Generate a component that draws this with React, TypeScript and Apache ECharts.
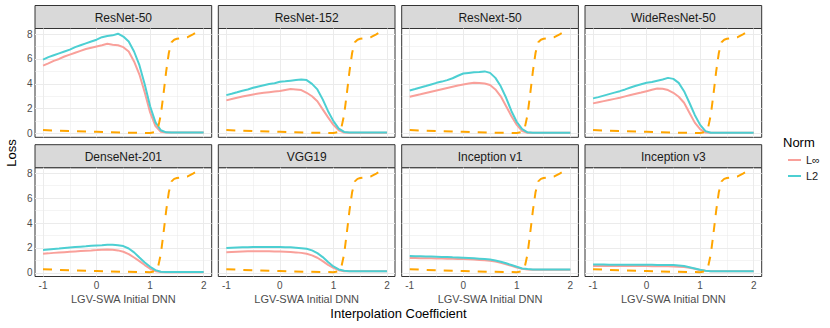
import React, { useEffect, useRef } from "react";
import * as echarts from "echarts";

const FONT = "'Liberation Sans', Arial, Helvetica, sans-serif";

const panelNames = [
  "ResNet-50", "ResNet-152", "ResNext-50", "WideResNet-50",
  "DenseNet-201", "VGG19", "Inception v1", "Inception v3",
];

const xs = [
  -1, -0.9, -0.8, -0.7, -0.6, -0.5, -0.4, -0.3, -0.2, -0.1,
  0, 0.1, 0.2, 0.3, 0.4, 0.5, 0.6, 0.7, 0.8, 0.9,
  1, 1.1, 1.2, 1.3, 1.4, 1.5, 1.6, 1.7, 1.8, 1.9, 2,
];

const resnet50Linf = [5.47, 5.65, 5.85, 6.0, 6.2, 6.35, 6.5, 6.65, 6.8, 6.9, 7.0, 7.1, 7.22, 7.15, 7.1, 6.95, 6.6, 5.8, 4.75, 3.3, 1.7, 0.6, 0.15, 0.08, 0.08, 0.08, 0.08, 0.08, 0.08, 0.08, 0.08];
const resnet50L2 = [5.95, 6.15, 6.3, 6.45, 6.6, 6.75, 6.95, 7.1, 7.25, 7.4, 7.55, 7.75, 7.85, 7.9, 8.03, 7.8, 7.4, 6.6, 5.5, 3.95, 2.2, 0.9, 0.27, 0.1, 0.08, 0.08, 0.08, 0.08, 0.08, 0.08, 0.08];
const resnet152Linf = [2.67, 2.78, 2.88, 2.98, 3.07, 3.15, 3.22, 3.28, 3.33, 3.38, 3.42, 3.5, 3.58, 3.55, 3.5, 3.28, 3.0, 2.6, 1.95, 1.3, 0.7, 0.27, 0.08, 0.07, 0.07, 0.07, 0.07, 0.07, 0.07, 0.07, 0.07];
const resnet152L2 = [3.09, 3.2, 3.32, 3.45, 3.55, 3.68, 3.78, 3.88, 3.98, 4.05, 4.16, 4.2, 4.25, 4.3, 4.35, 4.3, 4.0, 3.55, 2.75, 1.8, 1.0, 0.4, 0.13, 0.08, 0.08, 0.08, 0.08, 0.08, 0.08, 0.08, 0.08];
const resnext50Linf = [2.96, 3.06, 3.16, 3.27, 3.37, 3.47, 3.57, 3.67, 3.77, 3.87, 3.95, 4.02, 4.08, 4.06, 4.03, 3.9, 3.55, 3.0, 2.2, 1.4, 0.7, 0.2, 0.06, 0.06, 0.06, 0.06, 0.06, 0.06, 0.06, 0.06, 0.06];
const resnext50L2 = [3.47, 3.58, 3.7, 3.82, 3.95, 4.08, 4.18, 4.3, 4.45, 4.65, 4.83, 4.88, 4.93, 4.95, 5.0, 4.88, 4.48, 3.8, 2.88, 1.8, 0.93, 0.35, 0.1, 0.07, 0.07, 0.07, 0.07, 0.07, 0.07, 0.07, 0.07];
const wideresnet50Linf = [2.43, 2.52, 2.61, 2.7, 2.79, 2.88, 2.99, 3.1, 3.2, 3.3, 3.41, 3.52, 3.63, 3.6, 3.5, 3.28, 2.96, 2.48, 1.68, 0.88, 0.35, 0.08, 0.06, 0.06, 0.06, 0.06, 0.06, 0.06, 0.06, 0.06, 0.06];
const wideresnet50L2 = [2.83, 2.93, 3.05, 3.17, 3.29, 3.41, 3.55, 3.7, 3.85, 3.97, 4.08, 4.15, 4.25, 4.35, 4.48, 4.4, 4.08, 3.41, 2.48, 1.5, 0.7, 0.2, 0.06, 0.06, 0.06, 0.06, 0.06, 0.06, 0.06, 0.06, 0.06];
const densenet201Linf = [1.53, 1.56, 1.6, 1.63, 1.66, 1.69, 1.72, 1.75, 1.78, 1.8, 1.83, 1.86, 1.88, 1.86, 1.8, 1.69, 1.5, 1.23, 0.94, 0.62, 0.32, 0.13, 0.06, 0.05, 0.05, 0.05, 0.05, 0.05, 0.05, 0.05, 0.05];
const densenet201L2 = [1.83, 1.87, 1.91, 1.95, 2.0, 2.04, 2.07, 2.1, 2.13, 2.17, 2.2, 2.22, 2.25, 2.25, 2.22, 2.15, 1.95, 1.64, 1.23, 0.83, 0.48, 0.21, 0.08, 0.06, 0.06, 0.06, 0.06, 0.06, 0.06, 0.06, 0.06];
const vgg19Linf = [1.66, 1.68, 1.7, 1.72, 1.73, 1.74, 1.74, 1.73, 1.73, 1.72, 1.72, 1.7, 1.67, 1.64, 1.6, 1.53, 1.4, 1.21, 0.94, 0.64, 0.4, 0.21, 0.13, 0.12, 0.12, 0.12, 0.12, 0.12, 0.12, 0.12, 0.12];
const vgg19L2 = [1.99, 2.01, 2.03, 2.05, 2.06, 2.07, 2.07, 2.07, 2.07, 2.07, 2.07, 2.06, 2.05, 2.02, 1.98, 1.93, 1.8, 1.58, 1.26, 0.86, 0.51, 0.27, 0.16, 0.13, 0.13, 0.13, 0.13, 0.13, 0.13, 0.13, 0.13];
const inceptionV1Linf = [1.18, 1.18, 1.17, 1.16, 1.16, 1.15, 1.14, 1.13, 1.12, 1.11, 1.1, 1.08, 1.06, 1.03, 1.0, 0.97, 0.9, 0.8, 0.68, 0.56, 0.43, 0.32, 0.27, 0.24, 0.24, 0.24, 0.24, 0.24, 0.24, 0.24, 0.24];
const inceptionV1L2 = [1.34, 1.33, 1.32, 1.31, 1.3, 1.29, 1.27, 1.26, 1.24, 1.23, 1.21, 1.19, 1.16, 1.13, 1.1, 1.07, 0.99, 0.89, 0.76, 0.62, 0.48, 0.35, 0.3, 0.27, 0.27, 0.27, 0.27, 0.27, 0.27, 0.27, 0.27];
const inceptionV3Linf = [0.54, 0.54, 0.54, 0.54, 0.54, 0.54, 0.54, 0.54, 0.54, 0.54, 0.54, 0.53, 0.53, 0.52, 0.52, 0.51, 0.49, 0.46, 0.4, 0.32, 0.21, 0.16, 0.13, 0.13, 0.13, 0.13, 0.13, 0.13, 0.13, 0.13, 0.13];
const inceptionV3L2 = [0.67, 0.66, 0.66, 0.65, 0.65, 0.64, 0.64, 0.64, 0.64, 0.64, 0.64, 0.64, 0.63, 0.63, 0.62, 0.62, 0.59, 0.54, 0.45, 0.35, 0.24, 0.16, 0.13, 0.13, 0.13, 0.13, 0.13, 0.13, 0.13, 0.13, 0.13];

const linfSeries = [resnet50Linf, resnet152Linf, resnext50Linf, wideresnet50Linf, densenet201Linf, vgg19Linf, inceptionV1Linf, inceptionV3Linf];
const l2Series = [resnet50L2, resnet152L2, resnext50L2, wideresnet50L2, densenet201L2, vgg19L2, inceptionV1L2, inceptionV3L2];

// reference (dashed orange) curve, same in every panel
const refX = [-1, -0.5, 0, 0.5, 1.0, 1.1, 1.15, 1.2, 1.25, 1.3, 1.35, 1.4, 1.45, 1.5, 1.6, 1.7, 1.8, 1.85, 1.9];
const refY = [0.28, 0.2, 0.14, 0.08, 0.05, 0.12, 0.5, 1.5, 3.2, 5.0, 6.5, 7.35, 7.55, 7.62, 7.68, 7.75, 7.98, 8.1, 8.02];

const xLabelTicks = [-1, 0, 1, 2];
const xMinorTicks = [-0.5, 0.5, 1.5];
const yLabelTicks = [0, 2, 4, 6, 8];
const yMinorTicks = [1, 3, 5, 7];

const normNames = ["L∞", "L2"];

const PINK = "#F9A09A";
const TEAL = "#4CCFD2";
const ORANGE = "#FFA500";

export default function App() {
  const ref = useRef<HTMLDivElement>(null);

  useEffect(() => {
    if (!ref.current) return;
    const chart = echarts.init(ref.current, undefined, { renderer: "svg" });

    const colLeft = [35, 218.3, 401.7, 585];
    const panelW = 176.7;
    const rowTop = [28.5, 167.7];
    const panelH = 108.8;
    const stripH = 23;

    const grids: any[] = [];
    const xAxes: any[] = [];
    const yAxes: any[] = [];
    const series: any[] = [];
    const graphics: any[] = [];

    panelNames.forEach((name, i) => {
      const col = i % 4;
      const row = Math.floor(i / 4);
      const bottom = row === 1;
      const left = col === 0;
      grids.push({
        left: colLeft[col], top: rowTop[row], width: panelW, height: panelH,
        show: true, backgroundColor: "#FFFFFF", borderColor: "#333333", borderWidth: 1,
        containLabel: false,
      });
      xAxes.push({
        gridIndex: i, type: "value", min: -1.15, max: 2.15,
        axisLine: { show: false },
        splitLine: { show: false },
        minorSplitLine: { show: false },
        axisTick: { show: bottom, customValues: xLabelTicks, length: 3, lineStyle: { color: "#333333", width: 1 } },
        axisLabel: { show: bottom, customValues: xLabelTicks, fontSize: 10, color: "#4D4D4D", margin: 4, fontFamily: FONT, fontWeight: "normal" },
        name: bottom ? "LGV-SWA Initial DNN" : "",
        nameLocation: "middle",
        nameGap: 17,
        nameTextStyle: { fontSize: 11, color: "#4D4D4D", fontFamily: FONT, fontWeight: "normal" },
      });
      yAxes.push({
        gridIndex: i, type: "value", min: -0.3, max: 8.45,
        axisLine: { show: false },
        splitLine: { show: false },
        axisTick: { show: left, customValues: yLabelTicks, length: 2.5, lineStyle: { color: "#333333", width: 1 } },
        axisLabel: { show: left, customValues: yLabelTicks, fontSize: 10, color: "#4D4D4D", margin: 2.5, fontFamily: FONT, fontWeight: "normal" },
      });

      const gridLines: any[] = [];
      xLabelTicks.forEach((v) => gridLines.push({ xAxis: v, lineStyle: { color: "#EBEBEB", width: 1, type: "solid" } }));
      xMinorTicks.forEach((v) => gridLines.push({ xAxis: v, lineStyle: { color: "#EBEBEB", width: 0.55, type: "solid" } }));
      yLabelTicks.forEach((v) => gridLines.push({ yAxis: v, lineStyle: { color: "#EBEBEB", width: 1, type: "solid" } }));
      yMinorTicks.forEach((v) => gridLines.push({ yAxis: v, lineStyle: { color: "#EBEBEB", width: 0.55, type: "solid" } }));

      series.push({
        name: normNames[0], type: "line", xAxisIndex: i, yAxisIndex: i,
        data: xs.map((x, j) => [x, linfSeries[i][j]]),
        showSymbol: false, symbol: "none", color: PINK,
        lineStyle: { color: PINK, width: 2 }, z: 2,
        markLine: {
          silent: true, symbol: ["none", "none"], z: 1, animation: false,
          label: { show: false }, emphasis: { disabled: true },
          lineStyle: { type: "solid" },
          data: gridLines,
        },
      });
      series.push({
        name: normNames[1], type: "line", xAxisIndex: i, yAxisIndex: i,
        data: xs.map((x, j) => [x, l2Series[i][j]]),
        showSymbol: false, symbol: "none", color: TEAL,
        lineStyle: { color: TEAL, width: 2 }, z: 3,
      });
      series.push({
        name: "LGV-SWA", type: "line", xAxisIndex: i, yAxisIndex: i,
        data: refX.map((x, j) => [x, refY[j]]),
        showSymbol: false, symbol: "none", color: ORANGE,
        lineStyle: { color: ORANGE, width: 2, type: [9, 8] }, z: 4,
      });

      const stripTop = rowTop[row] - stripH;
      graphics.push({
        type: "rect",
        shape: { x: colLeft[col], y: stripTop, width: panelW, height: stripH },
        style: { fill: "#D9D9D9", stroke: "#333333", lineWidth: 1 },
        silent: true,
      });
      graphics.push({
        type: "text",
        x: colLeft[col] + panelW / 2, y: stripTop + stripH / 2 + 0.5,
        style: { text: name, fontSize: 12, fontWeight: "normal", fill: "#1A1A1A", fontFamily: FONT, align: "center", verticalAlign: "middle" },
        silent: true,
      });
    });

    graphics.push({
      type: "text", x: 398.5, y: 313,
      style: { text: "Interpolation Coefficient", fontSize: 13, fontWeight: "normal", fill: "#000000", fontFamily: FONT, align: "center", verticalAlign: "middle" },
    });
    graphics.push({
      type: "text", x: 11, y: 153, rotation: Math.PI / 2,
      style: { text: "Loss", fontSize: 13, fontWeight: "normal", fill: "#000000", fontFamily: FONT, align: "center", verticalAlign: "middle" },
    });
    graphics.push({
      type: "text", x: 783, y: 142,
      style: { text: "Norm", fontSize: 13, fontWeight: "normal", fill: "#000000", fontFamily: FONT, align: "left", verticalAlign: "middle" },
    });

    chart.setOption({
      animation: false,
      backgroundColor: "#FFFFFF",
      grid: grids,
      xAxis: xAxes,
      yAxis: yAxes,
      series,
      legend: {
        data: normNames,
        orient: "vertical",
        left: 783,
        top: 149.5,
        icon: "rect",
        itemWidth: 13,
        itemHeight: 2,
        itemGap: 5,
        selectedMode: false,
        textStyle: { fontSize: 11, color: "#1A1A1A", fontFamily: FONT, fontWeight: "normal" },
      },
      graphic: graphics,
    });

    return () => chart.dispose();
  }, []);

  return (
    <div
      ref={ref}
      style={{ position: "fixed", left: 0, top: 0, width: 830, height: 328, background: "#FFFFFF" }}
    />
  );
}
